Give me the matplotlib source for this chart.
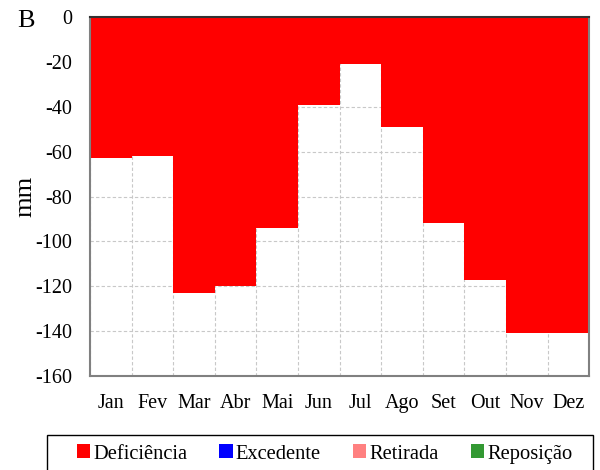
import matplotlib.pyplot as plt
from matplotlib.patches import Patch, Rectangle
from matplotlib.ticker import FixedLocator
import numpy as np

meses = ["Jan", "Fev", "Mar", "Abr", "Mai", "Jun", "Jul", "Ago", "Set", "Out", "Nov", "Dez"]
deficiencia = [-63, -62, -123, -120, -94, -39, -21, -49, -92, -117, -141, -141]
legenda = ["Deficiência", "Excedente", "Retirada", "Reposição"]
cores = ["#ff0000", "#0000ff", "#ff8080", "#339933"]

plt.rcParams["font.family"] = ["Liberation Serif", "DejaVu Serif"]
plt.rcParams["font.size"] = 14.5
plt.rcParams["axes.unicode_minus"] = False

fig = plt.figure(figsize=(6, 4.7), dpi=100)
ax = fig.add_axes([0.15, 0.2, 0.832, 0.7638])

x = np.arange(len(meses))
ax.bar(x, deficiencia, width=1.0, align="edge", color=cores[0], linewidth=0, zorder=2)

ax.set_xlim(0, 12)
ax.set_ylim(-160, 0)
ax.set_yticks(np.arange(-160, 1, 20))
ax.set_xticks(x + 0.5)
ax.set_xticklabels(meses)
ax.xaxis.set_minor_locator(FixedLocator(np.arange(0, 13)))
ax.tick_params(axis="x", which="major", length=0, pad=13)
ax.tick_params(axis="x", which="minor", top=True, bottom=False, direction="in", length=5, color="#222222")
ax.tick_params(axis="y", length=0, pad=13)

ax.grid(True, which="minor", axis="x", linestyle=(0, (3, 2)), color="#c8c8c8", linewidth=0.8, zorder=1)
ax.grid(True, which="major", axis="y", linestyle=(0, (3, 2)), color="#c8c8c8", linewidth=0.8, zorder=1)
ax.set_axisbelow(True)

for lado in ["left", "bottom", "right"]:
    ax.spines[lado].set_color("#808080")
    ax.spines[lado].set_linewidth(1.5)
ax.spines["top"].set_color("#333333")
ax.spines["top"].set_linewidth(1.5)

ax.set_ylabel("mm", fontsize=19, labelpad=-1)
fig.text(0.028, 0.955, "B", fontsize=19, ha="left", va="center")

# moldura da legenda, aberta para baixo
fig.patches.append(Rectangle((47 / 600, -0.05), (593 - 47) / 600, 1 - 435 / 470 + 0.05,
                             transform=fig.transFigure, fill=False,
                             edgecolor="black", linewidth=1.0))

handles = [Patch(facecolor=c, edgecolor="none") for c in cores]
fig.legend(handles, legenda, loc="center left", bbox_to_anchor=(77 / 600, 1 - 454 / 470),
           ncol=4, frameon=False, fontsize=14.8,
           handlelength=0.65, handleheight=0.65, handletextpad=0.15,
           columnspacing=1.55, borderpad=0, borderaxespad=0)

fig.savefig("out.png", dpi=100)
